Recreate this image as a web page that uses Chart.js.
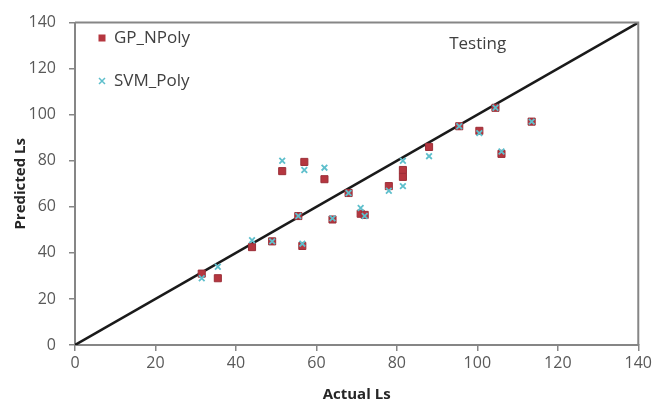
<!DOCTYPE html>
<html>
<head>
<meta charset="utf-8">
<script src="https://cdn.jsdelivr.net/npm/chart.js@4.4.1/dist/chart.umd.min.js"></script>
<style>
  html, body { margin: 0; padding: 0; background: #ffffff; }
  #wrap { width: 655px; height: 406px; position: relative; }
</style>
</head>
<body>
<div id="wrap"><canvas id="c" width="655" height="406"></canvas></div>
<script>
// ---- data ----
const actualLs     = [31.5, 35.5, 44, 49, 51.5, 55.5, 56.5, 57, 62, 64, 68, 71, 72, 78, 81.5, 81.5, 88, 95.5, 100.5, 104.5, 106, 113.5];
const gpPredicted  = [31, 29, 42.5, 45, 75.5, 56, 43, 79.5, 72, 54.5, 66, 57, 56.5, 69, 76, 73, 86, 95, 93, 103, 83, 97];
const svmPredicted = [29, 34, 45.5, 45, 80, 56, 44, 76, 77, 55, 66, 59.5, 56, 67, 80, 69, 82, 95, 92, 103, 84, 97];
const lineX = [0, 140];
const lineY = [0, 140];
const seriesNames = ["GP_NPoly", "SVM_Poly"];
const xTitle = "Actual Ls";
const yTitle = "Predicted Ls";
const annotationText = "Testing";
const annotationPos = [93, 130.5];

const FONT = "'Open Sans', 'Liberation Sans', sans-serif";
const RED = '#b5363f';
const CYAN = '#5ebfcc';
const AXIS = '#868686';

const toPts = (xs, ys) => xs.map((x, i) => ({x: x, y: ys[i]}));

const extras = {
  id: 'extras',
  afterDatasetsDraw(chart) {
    const {ctx, chartArea: a, scales} = chart;
    ctx.save();
    // top and right border of plot box
    ctx.strokeStyle = AXIS;
    ctx.lineWidth = 2;
    ctx.beginPath();
    ctx.moveTo(a.left, a.top);
    ctx.lineTo(a.right, a.top);
    ctx.lineTo(a.right, a.bottom);
    ctx.stroke();

    // legend
    ctx.font = "17px " + FONT;
    ctx.textBaseline = 'middle';
    ctx.textAlign = 'left';
    const lx = 102, ly1 = 38, ly2 = 81;
    ctx.fillStyle = RED;
    ctx.fillRect(lx - 3.5, ly1 - 3.5, 7, 7);
    ctx.strokeStyle = CYAN;
    ctx.lineWidth = 1.5;
    ctx.beginPath();
    ctx.moveTo(lx - 3, ly2 - 3); ctx.lineTo(lx + 3, ly2 + 3);
    ctx.moveTo(lx + 3, ly2 - 3); ctx.lineTo(lx - 3, ly2 + 3);
    ctx.stroke();
    ctx.fillStyle = '#404040';
    ctx.fillText(seriesNames[0], 114, ly1);
    ctx.fillText(seriesNames[1], 114, ly2);

    // annotation
    const tx = scales.x.getPixelForValue(annotationPos[0]);
    const ty = scales.y.getPixelForValue(annotationPos[1]);
    ctx.font = "17px " + FONT;
    ctx.fillText(annotationText, tx, ty);
    ctx.restore();
  }
};

new Chart(document.getElementById('c'), {
  type: 'scatter',
  data: {
    datasets: [
      {
        label: seriesNames[1],
        data: toPts(actualLs, svmPredicted),
        pointStyle: 'crossRot',
        pointRadius: 4,
        pointBorderWidth: 1.8,
        borderColor: CYAN,
        backgroundColor: CYAN,
        order: 0
      },
      {
        label: seriesNames[0],
        data: toPts(actualLs, gpPredicted),
        pointStyle: 'rect',
        pointRadius: 5,
        pointBorderWidth: 1,
        borderColor: '#9c2f38',
        backgroundColor: RED,
        order: 1
      },
      {
        label: 'line',
        type: 'line',
        data: toPts(lineX, lineY),
        borderColor: '#1a1a1a',
        borderWidth: 2.5,
        pointRadius: 0,
        fill: false,
        order: 2
      }
    ]
  },
  options: {
    responsive: false,
    animation: false,
    layout: { padding: { top: 16, right: 16, left: 0, bottom: 0 } },
    plugins: {
      legend: { display: false },
      tooltip: { enabled: false }
    },
    scales: {
      x: {
        type: 'linear', min: 0, max: 140,
        ticks: { stepSize: 20, color: '#595959', font: { family: FONT, size: 16 }, padding: 3 },
        grid: { drawOnChartArea: false, drawTicks: true, tickLength: 6, color: AXIS, lineWidth: 1.5 },
        border: { display: true, color: AXIS, width: 2 },
        title: { display: true, text: xTitle, color: '#262626', font: { family: FONT, size: 15, weight: 'bold' }, padding: { top: 0, bottom: 2 } },
        afterFit(scale) { scale.height = 61; }
      },
      y: {
        type: 'linear', min: 0, max: 140,
        ticks: { stepSize: 20, color: '#595959', font: { family: FONT, size: 16 }, padding: 13 },
        grid: { drawOnChartArea: false, drawTicks: true, tickLength: 6, color: AXIS, lineWidth: 1.5 },
        border: { display: true, color: AXIS, width: 2 },
        title: { display: true, text: yTitle, color: '#262626', font: { family: FONT, size: 15, weight: 'bold' }, padding: { top: 12, bottom: 0 } },
        afterFit(scale) { scale.width = 75; }
      }
    }
  },
  plugins: [extras]
});
</script>
</body>
</html>
